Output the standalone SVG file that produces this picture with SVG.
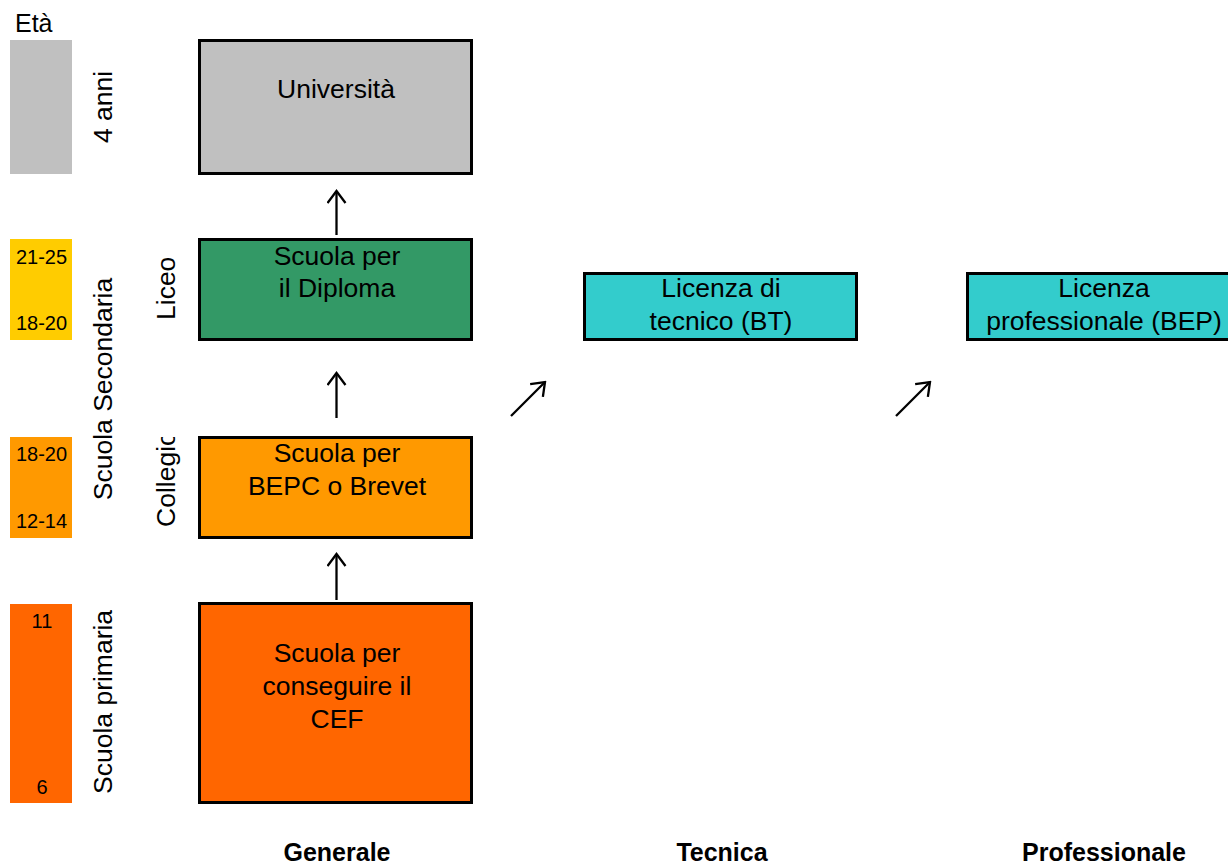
<svg xmlns="http://www.w3.org/2000/svg" width="1228" height="865" viewBox="0 0 1228 865">
  <style>
    text { font-family: "Liberation Sans", Arial, sans-serif; fill: #000; }
    .box { stroke: #000; stroke-width: 3; }
    .bar { stroke: none; }
    .lbl { font-size: 26.5px; text-anchor: middle; }
    .age { font-size: 20px; text-anchor: middle; }
    .side { font-size: 26.5px; }
    .track { font-size: 25px; font-weight: bold; text-anchor: middle; }
    .conn { stroke: #000; stroke-width: 2.3; fill: none; marker-end: url(#head); }
  </style>
  <defs>
    <marker id="head" viewBox="-14 -10 16 20" refX="0" refY="0" markerWidth="16" markerHeight="20" markerUnits="userSpaceOnUse" orient="auto">
      <path d="M-12,-9 L0,0 L-12,9" fill="none" stroke="#000" stroke-width="2.3"/>
    </marker>
    <clipPath id="collegioClip">
      <rect x="140" y="437" width="60" height="110"/>
    </clipPath>
  </defs>

  <rect width="1228" height="865" fill="#fff"/>

  <!-- age column -->
  <g id="age-column">
    <text x="15" y="32" style="font-size:25px">Età</text>
    <rect class="bar" x="10" y="40" width="62" height="134" fill="#C0C0C0"/>
    <rect class="bar" x="10" y="239" width="62" height="101" fill="#FFCC00"/>
    <text class="age" x="41.5" y="264">21-25</text>
    <text class="age" x="41.5" y="330">18-20</text>
    <rect class="bar" x="10" y="437" width="62" height="101" fill="#FF9900"/>
    <text class="age" x="41.5" y="461">18-20</text>
    <text class="age" x="41.5" y="528">12-14</text>
    <rect class="bar" x="10" y="604" width="62" height="199" fill="#FF6600"/>
    <text class="age" x="42" y="628">11</text>
    <text class="age" x="42" y="794">6</text>
  </g>

  <!-- level labels -->
  <g id="level-labels">
    <text class="side" transform="translate(112,107) rotate(-90)" text-anchor="middle">4 anni</text>
    <text class="side" transform="translate(112,389) rotate(-90)" text-anchor="middle">Scuola Secondaria</text>
    <text class="side" transform="translate(112,794) rotate(-90)">Scuola primaria</text>
    <text class="side" transform="translate(175,320) rotate(-90)">Liceo</text>
    <g clip-path="url(#collegioClip)">
      <text class="side" transform="translate(175,527) rotate(-90)">Collegio</text>
    </g>
  </g>

  <!-- general track -->
  <g id="universita">
    <rect class="box" x="199.5" y="40.5" width="272" height="133" fill="#C0C0C0"/>
    <text class="lbl" x="336" y="98">Università</text>
  </g>
  <g id="diploma">
    <rect class="box" x="199.5" y="239.5" width="272" height="100" fill="#339966"/>
    <text class="lbl" x="337" y="265">Scuola per</text>
    <text class="lbl" x="337" y="297">il Diploma</text>
  </g>
  <g id="bepc">
    <rect class="box" x="199.5" y="437.5" width="272" height="100" fill="#FF9900"/>
    <text class="lbl" x="337" y="462">Scuola per</text>
    <text class="lbl" x="337" y="495">BEPC o Brevet</text>
  </g>
  <g id="cef">
    <rect class="box" x="199.5" y="603.5" width="272" height="199" fill="#FF6600"/>
    <text class="lbl" x="337" y="662">Scuola per</text>
    <text class="lbl" x="337" y="695">conseguire il</text>
    <text class="lbl" x="337" y="728">CEF</text>
  </g>

  <!-- technical and vocational tracks -->
  <g id="licenza-bt">
    <rect class="box" x="584.5" y="273.5" width="272" height="66" fill="#33CCCC"/>
    <text class="lbl" x="721" y="297">Licenza di</text>
    <text class="lbl" x="721" y="330">tecnico (BT)</text>
  </g>
  <g id="licenza-bep">
    <rect class="box" x="967.5" y="273.5" width="272" height="66" fill="#33CCCC"/>
    <text class="lbl" x="1104" y="297">Licenza</text>
    <text class="lbl" x="1104" y="330">professionale (BEP)</text>
  </g>

  <!-- connectors -->
  <g id="connectors">
    <line class="conn" x1="336.5" y1="235" x2="336.5" y2="191"/>
    <line class="conn" x1="336.5" y1="418" x2="336.5" y2="373"/>
    <line class="conn" x1="336.5" y1="600" x2="336.5" y2="554"/>
    <line class="conn" x1="511" y1="416" x2="545" y2="382"/>
    <line class="conn" x1="896" y1="416" x2="930" y2="382"/>
  </g>

  <!-- track names -->
  <g id="track-names">
    <text class="track" x="337" y="861">Generale</text>
    <text class="track" x="722" y="861">Tecnica</text>
    <text class="track" x="1104" y="861">Professionale</text>
  </g>
</svg>
